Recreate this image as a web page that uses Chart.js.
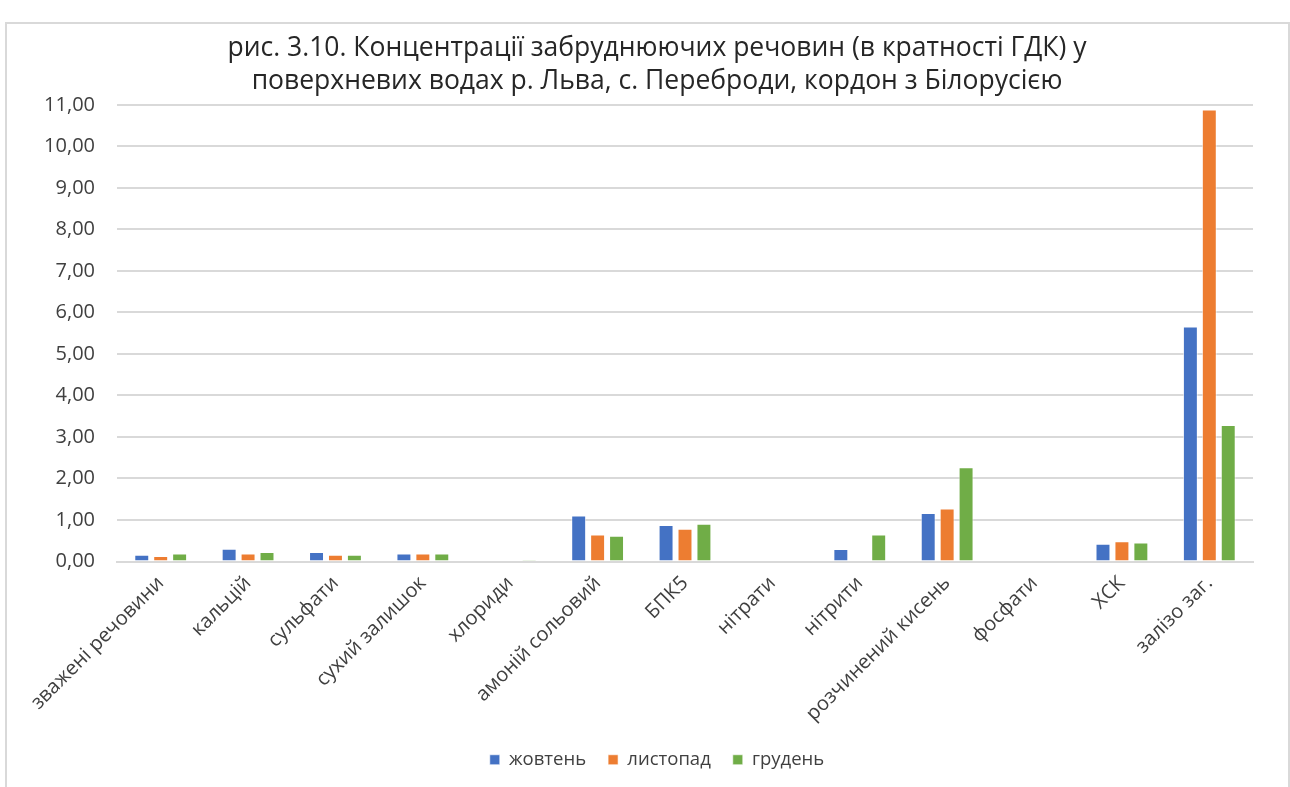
<!DOCTYPE html>
<html>
<head>
<meta charset="utf-8">
<script src="https://cdn.jsdelivr.net/npm/chart.js@4"></script>
<style>
  body { margin: 0; background: #fff; overflow: hidden; }
  #box {
    position: absolute; left: 5px; top: 22px;
    width: 1281px; height: 780px;
    border: 2px solid #d9d9d9; border-bottom: none;
  }
  #myChart { position: absolute; left: 0; top: 0; }
</style>
</head>
<body>
<div id="box">
  <canvas id="myChart" width="1300" height="765"></canvas>
</div>
<script>
// categories and values
const categories = [
  'зважені речовини', 'кальцій', 'сульфати', 'сухий залишок', 'хлориди',
  'амоній сольовий', 'БПК5', 'нітрати', 'нітрити', 'розчинений кисень',
  'фосфати', 'ХСК', 'залізо заг.'
];
const zhovten  = [0.16, 0.31, 0.23, 0.19, 0, 1.11, 0.88, 0, 0.30, 1.17, 0, 0.43, 5.66];
const lystopad = [0.13, 0.19, 0.16, 0.19, 0, 0.65, 0.79, 0, 0,    1.28, 0, 0.49, 10.89];
const hruden   = [0.19, 0.23, 0.16, 0.19, 0.04, 0.62, 0.91, 0, 0.65, 2.27, 0, 0.46, 3.29];
const yTicks = [0, 1, 2, 3, 4, 5, 6, 7, 8, 9, 10, 11];

const titleLines = [
  'рис. 3.10. Концентрації забруднюючих речовин (в кратності ГДК) у',
  'поверхневих водах р. Льва, с. Переброди, кордон з Білорусією'
];

const ctx = document.getElementById('myChart');

const barStyle = (color) => ({
  backgroundColor: color,
  borderColor: 'rgba(255,255,255,0.6)',
  borderWidth: 1,
  categoryPercentage: 0.65,
  barPercentage: 0.79
});

new Chart(ctx, {
  type: 'bar',
  data: {
    labels: categories,
    datasets: [
      { label: 'жовтень',  data: zhovten,  ...barStyle('#4472c4') },
      { label: 'листопад', data: lystopad, ...barStyle('#ed7d31') },
      { label: 'грудень',  data: hruden,   ...barStyle('#70ad47') }
    ]
  },
  options: {
    responsive: false,
    animation: false,
    layout: { padding: { left: 0, right: 0, top: 0, bottom: 10 } },
    plugins: {
      title: {
        display: true,
        text: titleLines,
        color: '#262626',
        font: { family: 'Open Sans', size: 26.5, weight: 'normal', lineHeight: 1.245 },
        padding: { top: 8, bottom: 7 }
      },
      legend: {
        position: 'bottom',
        labels: {
          color: '#404040',
          font: { family: 'Open Sans', size: 18.5 },
          boxWidth: 10,
          boxHeight: 10,
          padding: 22
        }
      },
      tooltip: { enabled: false }
    },
    scales: {
      x: {
        grid: { display: false },
        border: { display: true, color: '#d9d9d9', width: 2 },
        afterFit: (axis) => { axis.height = 167; },
        ticks: {
          color: '#404040',
          font: { family: 'Open Sans', size: 20 },
          minRotation: 45,
          maxRotation: 45,
          padding: 2
        }
      },
      y: {
        min: 0,
        max: 11,
        afterBuildTicks: (axis) => { axis.ticks = yTicks.map(v => ({ value: v })); },
        afterFit: (axis) => { axis.width = 110; },
        grid: { color: '#d9d9d9', lineWidth: 2, drawTicks: false },
        border: { display: false },
        ticks: {
          color: '#404040',
          font: { family: 'Open Sans', size: 20 },
          padding: 22,
          callback: (v) => v.toFixed(2).replace('.', ',')
        }
      },
      // empty right-hand spacer so the title sits where it does in the original
      pad: {
        position: 'right',
        min: 0,
        max: 11,
        grid: { display: false },
        border: { display: false },
        ticks: { display: false },
        afterFit: (axis) => { axis.width = 54; }
      }
    }
  }
});
</script>
</body>
</html>
